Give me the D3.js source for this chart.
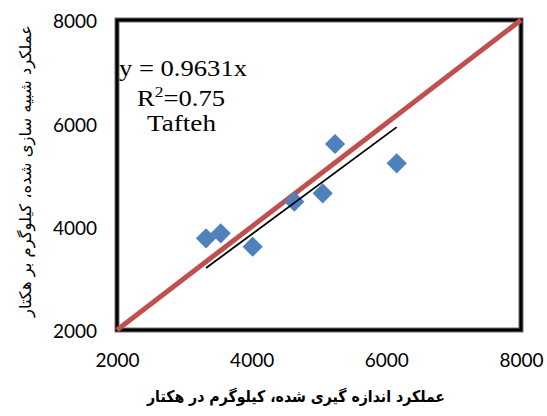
<!DOCTYPE html>
<html>
<head>
<meta charset="utf-8">
<script src="https://cdn.jsdelivr.net/npm/d3@7"></script>
<style>
  html, body { margin: 0; padding: 0; background: #fff; }
  svg { display: block; }
</style>
</head>
<body>
<svg id="chart" width="547" height="416"></svg>
<script>
// Measured vs simulated yield (kg/ha), Tafteh
const measured  = [3322, 3540, 4015, 4633, 5055, 5238, 6154];
const simulated = [3775, 3871, 3612, 4483, 4646, 5600, 5226];
const xTicks = [2000, 4000, 6000, 8000];
const yTicks = [2000, 4000, 6000, 8000];
const slope = 0.9631;
const r2 = "0.75";
const siteName = "Tafteh";
const xTitle = "عملکرد اندازه گیری شده، کیلوگرم در هکتار";
const yTitle = "عملکرد شبیه سازی شده، کیلوگرم بر هکتار";

const svg = d3.select("#chart");
const x = d3.scaleLinear().domain([2000, 8000]).range([117, 521]);
const y = d3.scaleLinear().domain([2000, 8000]).range([330, 20]);

// plot frame
svg.append("rect")
  .attr("x", x(2000)).attr("y", y(8000))
  .attr("width", x(8000) - x(2000)).attr("height", y(2000) - y(8000))
  .attr("fill", "none").attr("stroke", "#6e6e6e").attr("stroke-width", 5);
svg.append("rect")
  .attr("x", x(2000)).attr("y", y(8000))
  .attr("width", x(8000) - x(2000)).attr("height", y(2000) - y(8000))
  .attr("fill", "none").attr("stroke", "#000").attr("stroke-width", 3);

// axes (labels only)
const gx = svg.append("g").attr("transform", `translate(0,${y(2000)})`)
  .call(d3.axisBottom(x).tickValues(xTicks).tickSize(0).tickPadding(24).tickFormat(d3.format("d")));
const gy = svg.append("g").attr("transform", `translate(${x(2000)},0)`)
  .call(d3.axisLeft(y).tickValues(yTicks).tickSize(0).tickPadding(20).tickFormat(d3.format("d")));
[gx, gy].forEach(g => {
  g.select(".domain").remove();
  g.selectAll("text")
    .attr("font-family", "Lato, 'Open Sans', sans-serif")
    .attr("font-size", 19)
    .attr("fill", "#000");
});
gy.selectAll("text").attr("dy", "0.42em");

// 1:1 line
svg.append("line")
  .attr("x1", x(2000)).attr("y1", y(2000))
  .attr("x2", x(8000)).attr("y2", y(8000))
  .attr("stroke", "#C0504D").attr("stroke-width", 5);

// observations
const pts = measured.map((m, i) => [m, simulated[i]]);
svg.append("g").selectAll("path").data(pts).join("path")
  .attr("d", d3.symbol(d3.symbolSquare, 205))
  .attr("transform", d => `translate(${x(d[0])},${y(d[1])}) rotate(45)`)
  .attr("fill", "#4F81BD");

// regression through origin over the measured range
const xMin = d3.min(measured), xMax = d3.max(measured);
svg.append("line")
  .attr("x1", x(xMin)).attr("y1", y(slope * xMin))
  .attr("x2", x(xMax)).attr("y2", y(slope * xMax))
  .attr("stroke", "#000").attr("stroke-width", 1.8);

// equation block
const serif = "'Liberation Serif', 'Times New Roman', serif";
svg.append("text").attr("x", 119).attr("y", 76)
  .attr("font-family", serif).attr("font-size", 23)
  .attr("textLength", 128).attr("lengthAdjust", "spacingAndGlyphs")
  .text(`y = ${slope}x`);
const r = svg.append("text").attr("x", 137).attr("y", 106)
  .attr("font-family", serif).attr("font-size", 23)
  .attr("textLength", 88).attr("lengthAdjust", "spacingAndGlyphs");
r.append("tspan").text("R");
r.append("tspan").attr("font-size", 15).attr("dy", -9).text("2");
r.append("tspan").attr("dy", 9).text("=" + r2);
svg.append("text").attr("x", 147).attr("y", 131)
  .attr("font-family", serif).attr("font-size", 23)
  .attr("textLength", 69).attr("lengthAdjust", "spacingAndGlyphs")
  .text(siteName);

// axis titles, squeezed to their span
svg.append("text")
  .attr("x", 296).attr("y", 402)
  .attr("text-anchor", "middle").attr("direction", "rtl")
  .attr("font-family", "'DejaVu Sans', sans-serif").attr("font-weight", "bold")
  .attr("font-size", 16)
  .attr("textLength", 298).attr("lengthAdjust", "spacingAndGlyphs")
  .text(xTitle);
svg.append("text")
  .attr("transform", "translate(31,171) rotate(-90)")
  .attr("text-anchor", "middle").attr("direction", "rtl")
  .attr("font-family", "'DejaVu Sans', sans-serif")
  .attr("font-size", 16)
  .attr("textLength", 292).attr("lengthAdjust", "spacingAndGlyphs")
  .text(yTitle);
</script>
</body>
</html>
